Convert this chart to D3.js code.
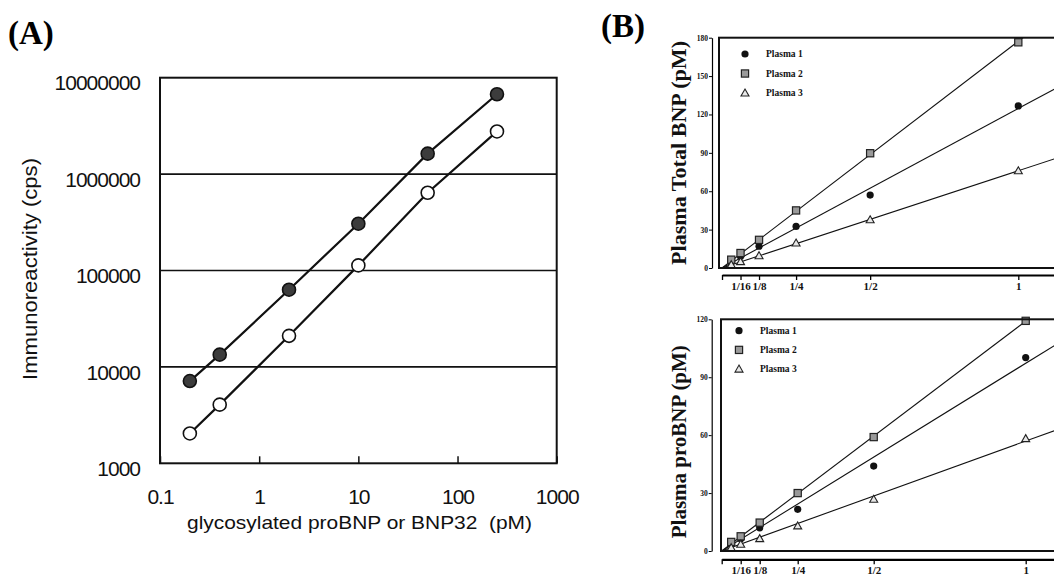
<!DOCTYPE html>
<html>
<head>
<meta charset="utf-8">
<script src="https://cdn.jsdelivr.net/npm/d3@7"></script>
<style>
  body { margin: 0; background: #fff; }
  svg { display: block; }
  .pa text { font-family: 'Liberation Sans', Arial, sans-serif; fill: #111; }
  .pb text { font-family: 'Liberation Serif', 'DejaVu Serif', serif; font-weight: bold; fill: #111; }
  .panel-label { font-family: 'Liberation Serif', serif; font-weight: bold; font-size: 33px; }
</style>
</head>
<body>
<svg width="1054" height="577"></svg>
<script>
// (A) calibration curves, log-log
const concA = [0.2, 0.4, 2, 10, 50, 250];
const cpsFilled = [7130, 13400, 63200, 306000, 1630000, 6730000];
const cpsOpen = [2040, 4060, 21000, 113000, 641000, 2770000];
const xTicksA = [0.1, 1, 10, 100, 1000];
const yTicksA = [1000, 10000, 100000, 1000000, 10000000];
const gridA = [10000, 100000, 1000000];

// (B) dilution linearity
const dilution = [1/32, 1/16, 1/8, 1/4, 1/2, 1];
const dilutionTicks = [0, 1/16, 1/8, 1/4, 1/2, 1];
const dilutionLabels = ['', '1/16', '1/8', '1/4', '1/2', '1'];
const plasmaNames = ['Plasma 1', 'Plasma 2', 'Plasma 3'];
const totalP1 = [5, 9, 17, 32.5, 57, 126.7];
const totalP2 = [6.5, 11.7, 22, 45, 89.7, 176.4];
const totalP3 = [2.6, 5, 9.6, 19.5, 37.7, 76];
const totalTicks = [0, 30, 60, 90, 120, 150, 180];
const proP1 = [3.8, 6.4, 12, 21.6, 44, 100.2];
const proP2 = [4.7, 7.6, 14.7, 30, 59, 119.2];
const proP3 = [1.7, 3.5, 6.4, 13, 26.8, 58.2];
const proTicks = [0, 30, 60, 90, 120];

const svg = d3.select('svg');

svg.append('text').attr('class', 'panel-label').attr('x', 8).attr('y', 44).text('(A)');
svg.append('text').attr('class', 'panel-label').attr('x', 601).attr('y', 37).text('(B)');

// ---------- panel A ----------
const ga = svg.append('g').attr('class', 'pa');
const xA = d3.scaleLog().domain([0.1, 1000]).range([160, 556.7]);
const yA = d3.scaleLog().domain([1000, 10000000]).range([463.3, 77.7]);

ga.selectAll('.grid')
    .data(gridA)
    .enter().append('line')
    .attr('x1', xA.range()[0]).attr('x2', xA.range()[1])
    .attr('y1', d => yA(d)).attr('y2', d => yA(d))
    .attr('stroke', '#111').attr('stroke-width', 1.6);

ga.append('rect')
    .attr('x', 160).attr('y', 77.7)
    .attr('width', 396.7).attr('height', 385.6)
    .attr('fill', 'none').attr('stroke', '#111').attr('stroke-width', 2);

const axA = ga.append('g')
    .attr('transform', 'translate(0,463.3)')
    .call(d3.axisBottom(xA).tickValues(xTicksA).tickFormat(d => String(d)).tickSize(-7).tickSizeOuter(0));
axA.select('.domain').remove();
axA.selectAll('line').attr('stroke', '#111').attr('stroke-width', 1.5);
axA.selectAll('text').attr('y', 41).attr('dy', null).attr('font-size', 21).attr('letter-spacing', -1);

const ayA = ga.append('g')
    .attr('transform', 'translate(160,0)')
    .call(d3.axisLeft(yA).tickValues(yTicksA).tickFormat(d => String(d)).tickSize(0).tickPadding(20));
ayA.select('.domain').remove();
ayA.selectAll('text').attr('dy', '0.58em').attr('font-size', 21).attr('letter-spacing', -1);

ga.append('text')
    .attr('text-anchor', 'middle')
    .attr('transform', 'translate(37,269)rotate(-90)')
    .attr('font-size', 21)
    .attr('textLength', 222).attr('lengthAdjust', 'spacingAndGlyphs')
    .text('Immunoreactivity (cps)');

ga.append('text')
    .attr('text-anchor', 'middle')
    .attr('x', 359.5).attr('y', 529)
    .attr('font-size', 19)
    .attr('textLength', 345).attr('lengthAdjust', 'spacingAndGlyphs')
    .style('white-space', 'pre')
    .text('glycosylated proBNP or BNP32  (pM)');

const lineA = d3.line().x(d => xA(d[0])).y(d => yA(d[1]));
[cpsOpen, cpsFilled].forEach((vals, k) => {
    const pts = concA.map((c, i) => [c, vals[i]]);
    ga.append('path')
        .datum(pts)
        .attr('d', lineA)
        .attr('fill', 'none').attr('stroke', '#111').attr('stroke-width', 2.2);
    ga.selectAll('.pt' + k)
        .data(pts)
        .enter().append('circle')
        .attr('cx', d => xA(d[0])).attr('cy', d => yA(d[1]))
        .attr('r', 6.5)
        .attr('fill', k === 1 ? '#3c3c3c' : '#fff')
        .attr('stroke', '#111').attr('stroke-width', 1.6);
});

// ---------- panel B ----------
function marker(sel, kind) {
    if (kind === 0) {
        sel.append('circle').attr('r', 3.6).attr('fill', '#111');
    } else if (kind === 1) {
        sel.append('rect').attr('x', -3.6).attr('y', -3.6).attr('width', 7.2).attr('height', 7.2)
            .attr('fill', '#9a9a9a').attr('stroke', '#222').attr('stroke-width', 1.2);
    } else {
        sel.append('path').attr('d', 'M0,-4L4,3L-4,3Z')
            .attr('fill', '#e8e8e8').attr('stroke', '#222').attr('stroke-width', 1.1);
    }
}

function dilutionPanel(opt) {
    const g = svg.append('g').attr('class', 'pb');
    const x = d3.scaleLinear().domain([0, 1.2]).range([opt.x0, opt.x0 + 1.2 * opt.unit]);
    const y = d3.scaleLinear().domain([0, opt.ymax]).range([opt.bottom, opt.top]);

    const clipId = 'clip' + opt.id;
    g.append('clipPath').attr('id', clipId)
        .append('rect')
        .attr('x', opt.frameX).attr('y', opt.top)
        .attr('width', 1054 - opt.frameX).attr('height', opt.bottom - opt.top);

    // fitted lines through origin
    opt.series.forEach(vals => {
        const slope = d3.sum(dilution, (d, i) => d * vals[i]) / d3.sum(dilution, d => d * d);
        g.append('line')
            .attr('clip-path', 'url(#' + clipId + ')')
            .attr('x1', x(0)).attr('y1', y(0))
            .attr('x2', x(1.2)).attr('y2', y(1.2 * slope))
            .attr('stroke', '#111').attr('stroke-width', 1.1);
    });

    opt.series.forEach((vals, k) => {
        g.selectAll('.m' + k)
            .data(dilution.map((d, i) => [d, vals[i]]))
            .enter().append('g')
            .attr('transform', d => 'translate(' + x(d[0]) + ',' + y(d[1]) + ')')
            .call(marker, k);
    });

    g.append('rect')
        .attr('x', opt.frameX).attr('y', opt.top)
        .attr('width', 1100 - opt.frameX).attr('height', opt.bottom - opt.top)
        .attr('fill', 'none').attr('stroke', '#111').attr('stroke-width', 2);

    const ay = g.append('g')
        .attr('transform', 'translate(' + opt.axisX + ',0)')
        .call(d3.axisLeft(y).tickValues(opt.ticks).tickSize(3).tickSizeOuter(0).tickPadding(1));
    ay.select('.domain').attr('stroke-width', 1.2);
    ay.selectAll('text').attr('font-size', 7.5);

    const ax = g.append('g')
        .attr('transform', 'translate(0,' + opt.axisY + ')')
        .call(d3.axisBottom(x).tickValues(dilutionTicks).tickFormat((d, i) => dilutionLabels[i]).tickSize(5).tickSizeOuter(0));
    ax.select('.domain').attr('stroke-width', 2.2);
    ax.selectAll('line').attr('stroke-width', 1.3);
    ax.selectAll('text').attr('font-size', 11).attr('y', 7).attr('dy', '0.71em');

    const lg = g.append('g');
    plasmaNames.forEach((name, k) => {
        const row = lg.append('g')
            .attr('transform', 'translate(' + opt.legX + ',' + (opt.legY + k * opt.legStep) + ')');
        row.call(marker, k);
        row.append('text').attr('x', 21).attr('dy', '0.35em').attr('font-size', 9.5).text(name);
    });

    g.append('text')
        .attr('text-anchor', 'middle')
        .attr('transform', 'translate(686,' + opt.titleY + ')rotate(-90)')
        .attr('font-size', 22)
        .attr('textLength', opt.titleLen).attr('lengthAdjust', 'spacingAndGlyphs')
        .text(opt.title);
}

dilutionPanel({
    id: 'total', x0: 722, unit: 296.3, top: 37.7, bottom: 268, ymax: 180,
    frameX: 719, axisX: 712, axisY: 275, ticks: totalTicks,
    series: [totalP1, totalP2, totalP3],
    legX: 745, legY: 54, legStep: 19.5,
    title: 'Plasma Total BNP (pM)', titleY: 153, titleLen: 224
});

dilutionPanel({
    id: 'pro', x0: 721.7, unit: 304, top: 319.3, bottom: 551, ymax: 120,
    frameX: 721, axisX: 711.7, axisY: 559.3, ticks: proTicks,
    series: [proP1, proP2, proP3],
    legX: 739, legY: 330.7, legStep: 19.2,
    title: 'Plasma proBNP (pM)', titleY: 441.7, titleLen: 193
});
</script>
</body>
</html>
